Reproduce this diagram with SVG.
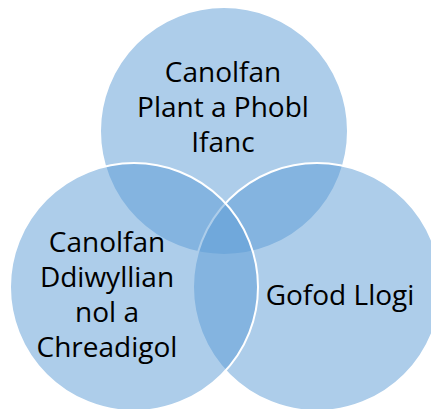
<svg xmlns="http://www.w3.org/2000/svg" width="431" height="409" viewBox="0 0 431 409">
<style>
.c{fill:#5b9bd5;fill-opacity:0.5;stroke:#ffffff;stroke-width:2}
.t{font-family:"Open Sans","Liberation Sans",sans-serif;font-size:28px;fill:#000;text-anchor:middle}
</style>
<rect width="431" height="409" fill="#ffffff"/>
<g id="top">
<circle class="c" cx="224" cy="131" r="124"/>
<text class="t"><tspan x="223" y="82">Canolfan</tspan><tspan x="223" y="117">Plant a Phobl</tspan><tspan x="223" y="152">Ifanc</tspan></text>
</g>
<g id="right">
<circle class="c" cx="317" cy="287" r="124"/>
<text class="t"><tspan x="340" y="305">Gofod Llogi</tspan></text>
</g>
<g id="left">
<circle class="c" cx="134" cy="287" r="124"/>
<text class="t"><tspan x="107" y="252">Canolfan</tspan><tspan x="107" y="287">Ddiwyllian</tspan><tspan x="107" y="322">nol a</tspan><tspan x="107" y="357">Chreadigol</tspan></text>
</g>
<g id="connectors"/>
</svg>
